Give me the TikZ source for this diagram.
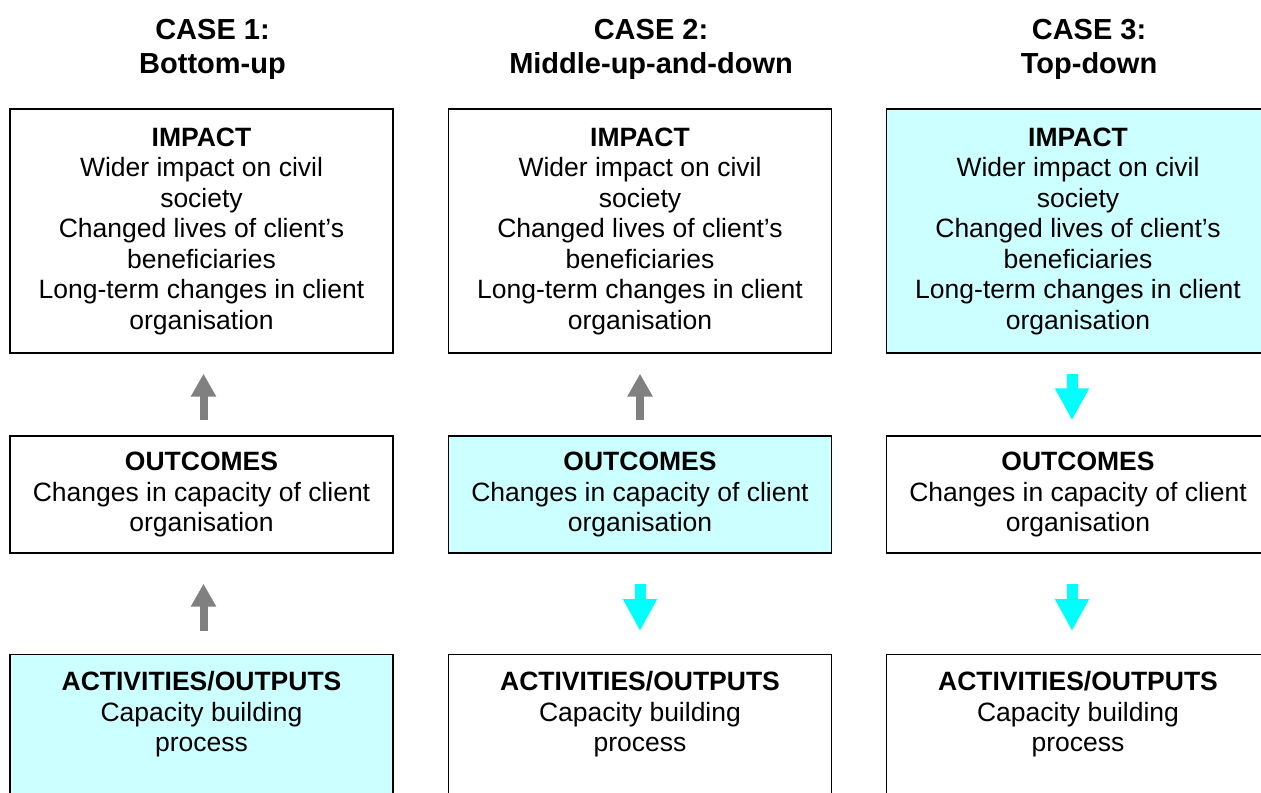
\documentclass[tikz,border=0pt]{standalone}
\usepackage{fontspec}
\setmainfont{Liberation Sans}
\usetikzlibrary{arrows.meta,positioning}
\definecolor{paleblue}{HTML}{CCFFFF}
\definecolor{arrowcyan}{HTML}{00FFFF}
\definecolor{arrowgrey}{HTML}{808080}
\newcommand{\bodyfont}{\fontsize{13.25pt}{15.25pt}\selectfont}
\newcommand{\headfont}{\fontsize{14.5pt}{17pt}\selectfont\bfseries}

\begin{document}
\begin{tikzpicture}[x=0.5pt,y=-0.5pt,
    casetitle/.style={align=center,font=\headfont,inner sep=0pt},
    stagebox/.style={draw,line width=0.7pt,minimum width=191.5pt,align=center,font=\bodyfont,inner sep=0pt},
    stagetext/.style={align=center,font=\bodyfont,inner sep=0pt},
    hit/.style={fill=paleblue},
    uparrow/.style={-{Triangle[width=12pt,length=11.5pt]},line width=4pt,arrowgrey},
    downarrow/.style={-{Triangle[width=16pt,length=16pt]},line width=5.5pt,arrowcyan}]
    \clip (0,0) rectangle (1261,792);

    \node[casetitle] (case1) at (212.5,49) {CASE 1:\\Bottom-up};
    \node[casetitle] (case2) at (651,49) {CASE 2:\\Middle-up-and-down};
    \node[casetitle] (case3) at (1089,49) {CASE 3:\\Top-down};

    \node[stagebox,minimum height=122pt] (imp1) at (201.5,231) {\textbf{IMPACT}\\Wider impact on civil\\society\\Changed lives of client's\\beneficiaries\\Long-term changes in client\\organisation};
    \node[stagebox,minimum height=58.5pt] (out1) at (201.5,494.5) {\textbf{OUTCOMES}\\Changes in capacity of client\\organisation};
    \node[stagebox,hit,minimum height=100pt,anchor=north] (act1) at (201.5,654) {};
    \node[stagetext,below=8.5pt of act1.north] (acttext1) {\textbf{ACTIVITIES/OUTPUTS}\\Capacity building\\process};

    \node[stagebox,minimum height=122pt] (imp2) at (640,231) {\textbf{IMPACT}\\Wider impact on civil\\society\\Changed lives of client's\\beneficiaries\\Long-term changes in client\\organisation};
    \node[stagebox,hit,minimum height=58.5pt] (out2) at (640,494.5) {\textbf{OUTCOMES}\\Changes in capacity of client\\organisation};
    \node[stagebox,minimum height=100pt,anchor=north] (act2) at (640,654) {};
    \node[stagetext,below=8.5pt of act2.north] (acttext2) {\textbf{ACTIVITIES/OUTPUTS}\\Capacity building\\process};

    \node[stagebox,hit,minimum height=122pt] (imp3) at (1078,231) {\textbf{IMPACT}\\Wider impact on civil\\society\\Changed lives of client's\\beneficiaries\\Long-term changes in client\\organisation};
    \node[stagebox,minimum height=58.5pt] (out3) at (1078,494.5) {\textbf{OUTCOMES}\\Changes in capacity of client\\organisation};
    \node[stagebox,minimum height=100pt,anchor=north] (act3) at (1078,654) {};
    \node[stagetext,below=8.5pt of act3.north] (acttext3) {\textbf{ACTIVITIES/OUTPUTS}\\Capacity building\\process};

    \draw[uparrow,shorten <=7.5pt,shorten >=10pt] ([xshift=1pt]out1.north) -- ([xshift=1pt]imp1.south);
    \draw[uparrow,shorten <=11.5pt,shorten >=15pt] ([xshift=1pt]act1.north) -- ([xshift=1pt]out1.south);
    \draw[uparrow,shorten <=7.5pt,shorten >=10pt] (out2.north) -- (imp2.south);
    \draw[downarrow,shorten <=15pt,shorten >=11.5pt] (out2.south) -- (act2.north);
    \draw[downarrow,shorten <=10pt,shorten >=7.5pt] ([xshift=-3pt]imp3.south) -- ([xshift=-3pt]out3.north);
    \draw[downarrow,shorten <=15pt,shorten >=11.5pt] ([xshift=-3pt]out3.south) -- ([xshift=-3pt]act3.north);
\end{tikzpicture}
\end{document}
